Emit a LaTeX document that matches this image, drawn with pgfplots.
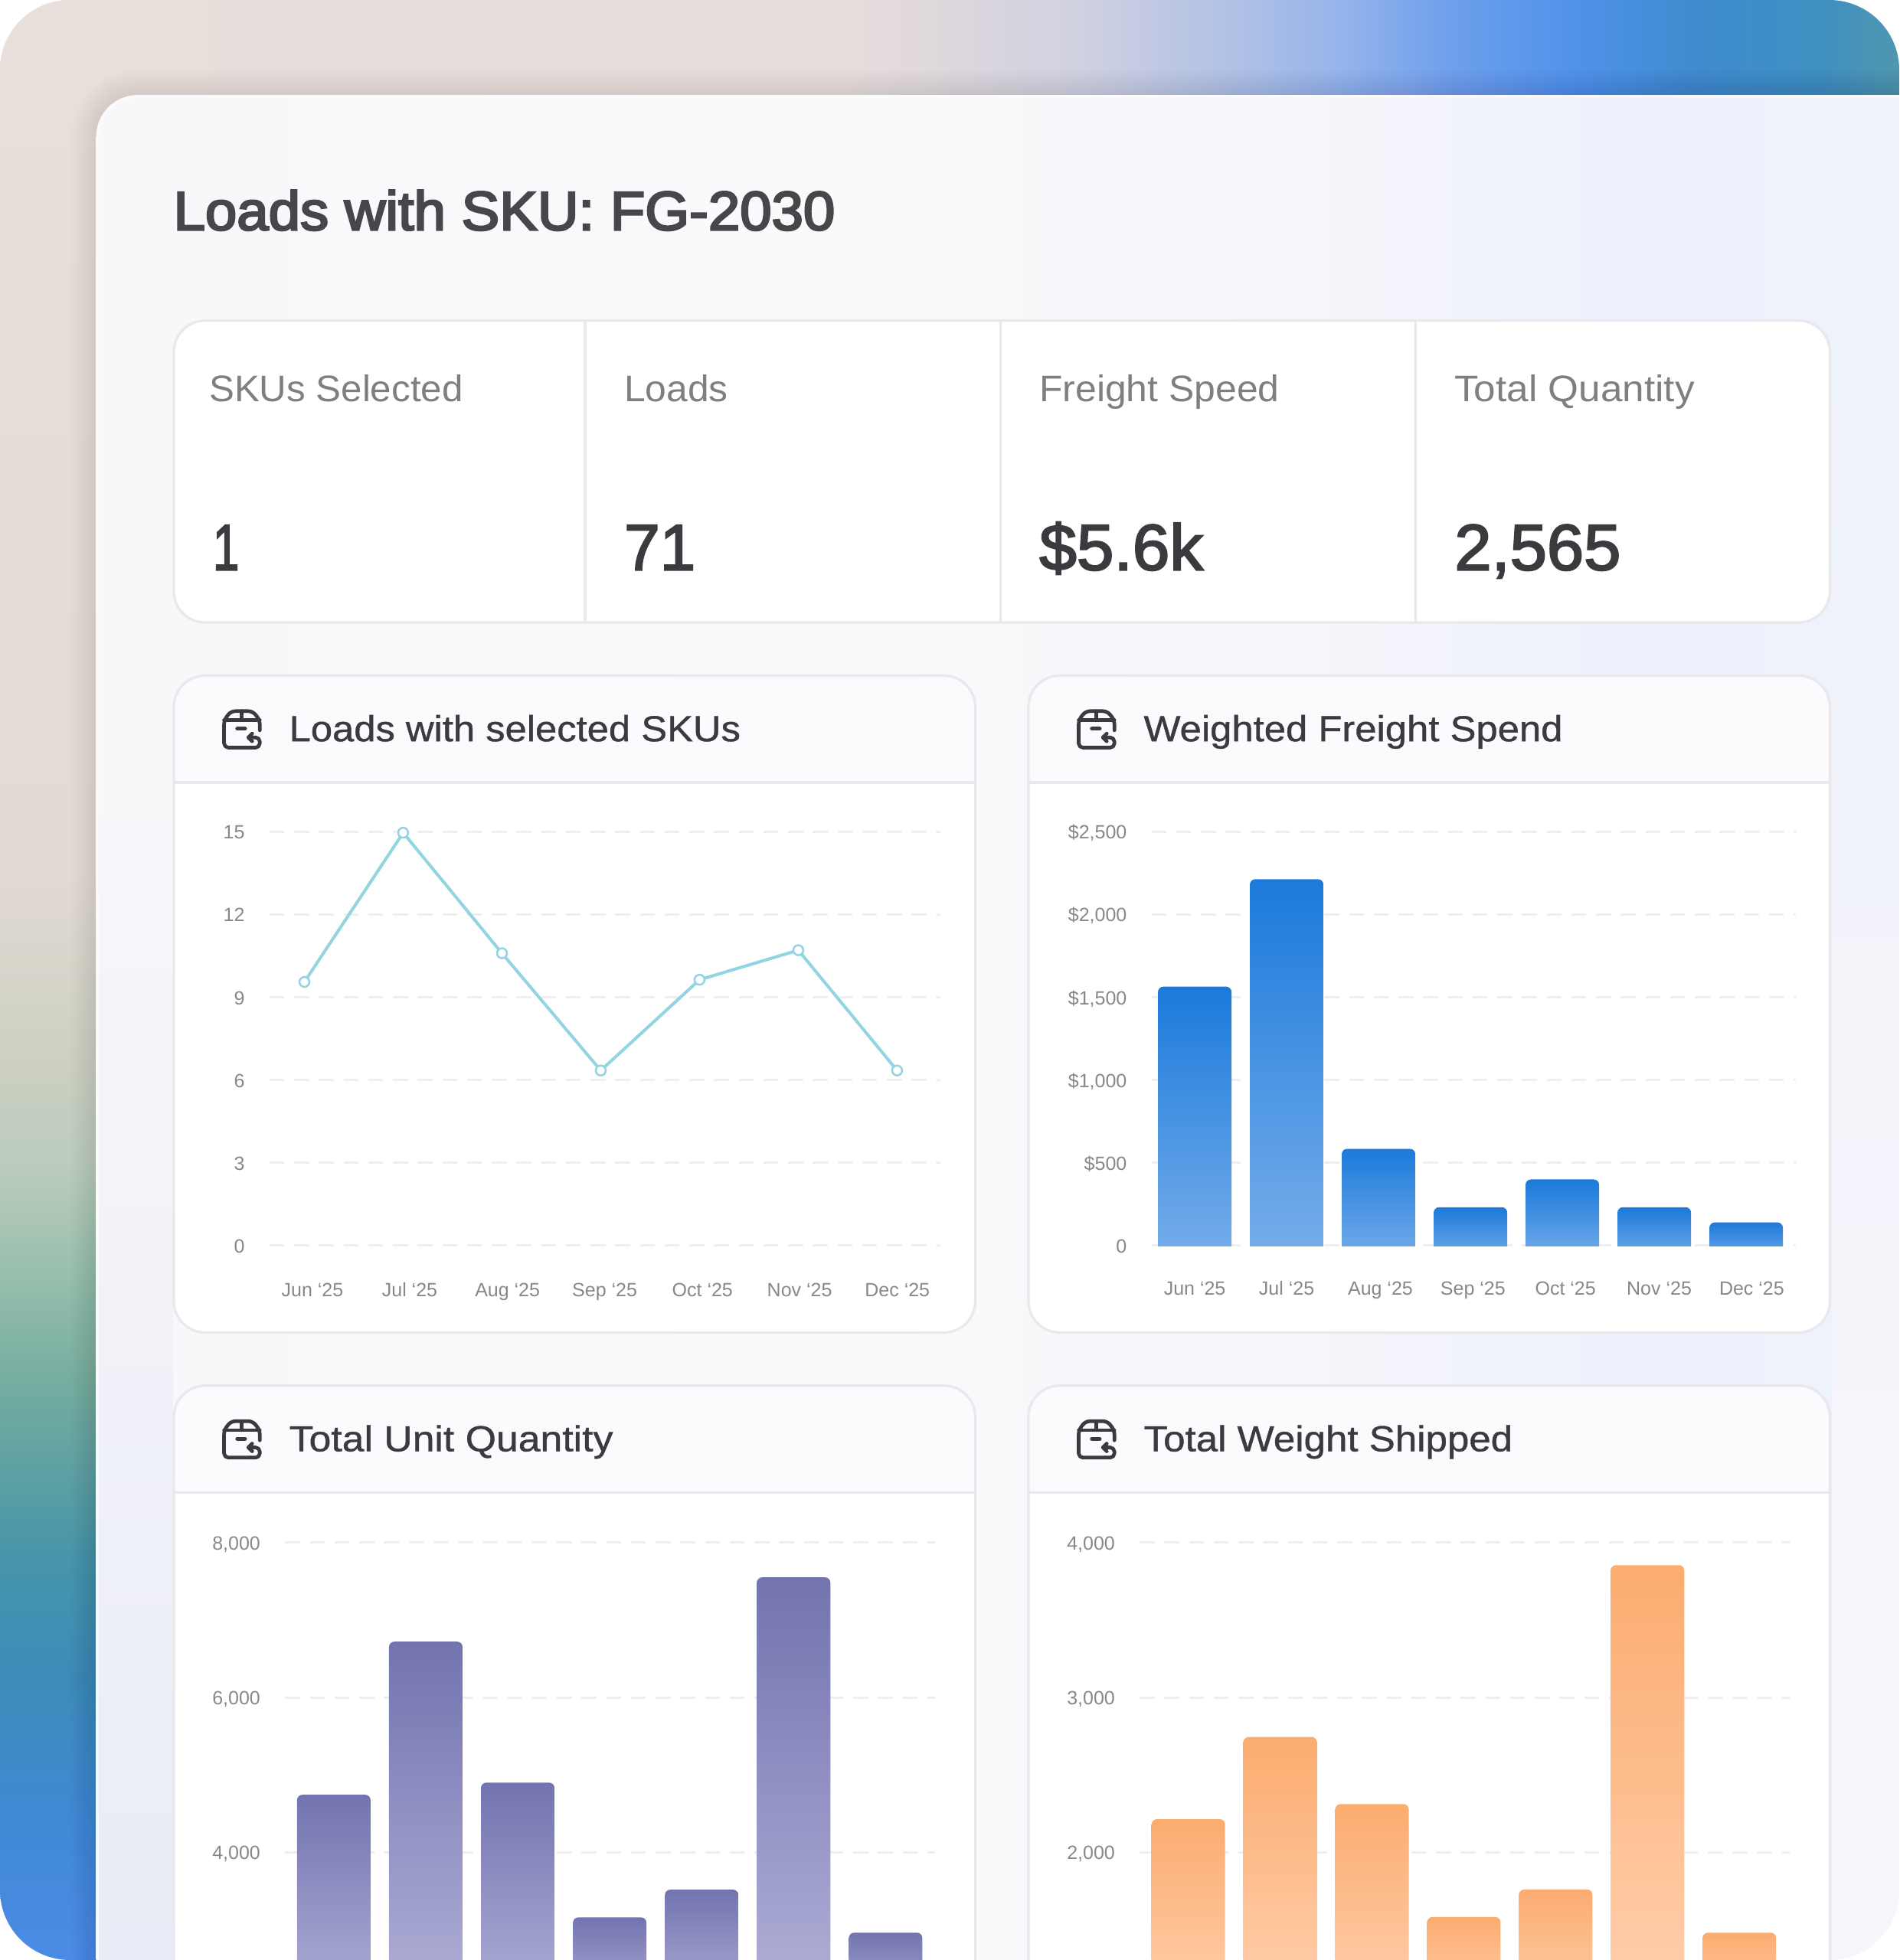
\documentclass[border=0pt]{standalone}
\usepackage{fontspec}
\usepackage{graphicx}
\usepackage{pgfplots}
\pgfplotsset{compat=1.18}
\setmainfont{Liberation Sans}
\newfontface\titlef{Liberation Sans}[FakeBold=3.5]
\newfontface\valf{Liberation Sans}[FakeBold=2.5]
\newfontface\headf{Liberation Sans}[FakeBold=0.8]
\newdimen\U \U=0.65306pt
\definecolor{ink}{HTML}{3B3B3F}
\definecolor{titleink}{HTML}{47464A}
\definecolor{kpilab}{HTML}{7F7F83}
\definecolor{tickc}{HTML}{88888C}
\definecolor{edge}{HTML}{E9E8EC}
\definecolor{gridc}{HTML}{EFEFF1}
\definecolor{head}{HTML}{FCFAFD}
\definecolor{linec}{HTML}{92D4E2}
\definecolor{bluet}{HTML}{1B7ADB}\definecolor{blueb}{HTML}{78AEEA}
\definecolor{purt}{HTML}{7373B0}\definecolor{purb}{HTML}{B1B1D8}
\definecolor{orat}{HTML}{FBAC6F}\definecolor{orab}{HTML}{FFD0AE}
\definecolor{c0}{HTML}{4C8BE6}\definecolor{c1}{HTML}{3F89D4}\definecolor{c2}{HTML}{3C8BB8}
\definecolor{c3}{HTML}{4695AB}\definecolor{c4}{HTML}{5A9FA4}\definecolor{c5}{HTML}{76AEA0}
\definecolor{c6}{HTML}{9ABFAD}\definecolor{c7}{HTML}{BCCCBD}\definecolor{c8}{HTML}{CDD0C3}
\definecolor{c9}{HTML}{E2DAD3}\definecolor{c10}{HTML}{E7DFDA}
\definecolor{t0}{HTML}{E8DFDA}\definecolor{t1}{HTML}{E6DDDC}\definecolor{t2}{HTML}{DCD6DD}
\definecolor{t3}{HTML}{CED0E1}\definecolor{t4}{HTML}{B5C3E4}\definecolor{t5}{HTML}{98B5EB}
\definecolor{t6}{HTML}{6D9FEC}\definecolor{t7}{HTML}{4F92E9}\definecolor{t8}{HTML}{3F8BCE}
\definecolor{t9}{HTML}{3F8FC2}\definecolor{t10}{HTML}{4F97B0}
\definecolor{p0}{HTML}{F8F7FA}\definecolor{p1}{HTML}{FCF9FB}\definecolor{p2}{HTML}{F6F5FB}
\definecolor{p3}{HTML}{EDF1FB}\definecolor{p4}{HTML}{EEF2FA}
\definecolor{lowleft}{HTML}{E9ECF6}\definecolor{lowright}{HTML}{F8F6FB}
% a shading named in TikZ maps its middle 25bp--75bp onto the path
\pgfdeclareverticalshading{leftstrip}{100bp}{
 color(0bp)=(c0); color(25bp)=(c0); color(28.55bp)=(c1); color(32.25bp)=(c2); color(35.2bp)=(c3);
 color(37.15bp)=(c4); color(39.9bp)=(c5); color(42.6bp)=(c6); color(45.35bp)=(c7);
 color(48.05bp)=(c8); color(52.7bp)=(c9); color(75bp)=(c10); color(100bp)=(c10)}
\pgfdeclarehorizontalshading{topstrip}{100bp}{
 color(0bp)=(t0); color(25bp)=(t0); color(47.3bp)=(t1); color(50.5bp)=(t2); color(53.7bp)=(t3);
 color(56.9bp)=(t4); color(60.1bp)=(t5); color(63.3bp)=(t6); color(66.5bp)=(t7);
 color(69.65bp)=(t8); color(72.85bp)=(t9); color(75bp)=(t10); color(100bp)=(t10)}
\pgfdeclarehorizontalshading{panelbg}{100bp}{
 color(0bp)=(p0); color(25bp)=(p0); color(44.9bp)=(p1); color(55.9bp)=(p2); color(64.6bp)=(p3); color(71.7bp)=(p4); color(100bp)=(p4)}
\newcommand\fit[2]{\resizebox{#1\U}{\height}{#2}}
\newcommand\boxicon[2]{%
 \begin{scope}[shift={(#1,#2)},x=0.204\U,y=-0.204\U,line width=2.9\U,draw=ink,line cap=round,line join=round]
  \draw[rounded corners=3.4\U] (146,82)--(146,42)--(118,7)--(33,7)--(6,42)--(6,150)--(110,150);
  \draw (6,42)--(146,42) (75,7)--(75,42);
  \draw[line width=3.2\U] (58,76)--(88,76);
  \draw[rounded corners=3.4\U] (102,110)--(146,110)--(146,150)--(110,150);
  \draw (116,95)--(101,110)--(116,125);
 \end{scope}}
\newcommand\card[5]{% x1 y1 x2 y2 ysep
 \begin{scope}
  \clip[rounded corners=25\U] (#1,#2) rectangle (#3,#4);
  \fill[white] (#1,#2) rectangle (#3,#4);
  \fill[head] (#1,#2) rectangle (#3,#5);
  \draw[edge,line width=2\U] (#1,#5)--(#3,#5);
 \end{scope}
 \draw[edge,line width=2\U,rounded corners=25\U] (#1,#2) rectangle (#3,#4);}
\pgfplotsset{dash/.style={
  scale only axis, anchor=south west, enlargelimits=false,
  axis line style={draw=none}, tick style={draw=none},
  ymajorgrids, major grid style={draw=gridc,line width=1.2pt,dash pattern=on 7.8pt off 5.1pt},
  tick label style={font=\fontsize{10}{10}\selectfont,text=tickc},
  xticklabel style={anchor=base,inner sep=0pt,yshift=-40.7\U},
  yticklabel style={anchor=base east,inner sep=0pt,xshift=-19.5\U,yshift=-5.7\U},
  clip mode=individual},
  bar/.style={bar shift=0pt,draw=none,rounded corners=2.8pt},
  blue/.style={bar,top color=bluet,bottom color=blueb},
  purple/.style={bar,top color=purt,bottom color=purb},
  orange/.style={bar,top color=orat,bottom color=orab}}
\begin{document}
\begin{tikzpicture}[x=0.65306pt,y=-0.65306pt]
\path[use as bounding box] (0,0) rectangle (1519,1568);
\begin{scope}
\clip[rounded corners=56\U] (0,0) rectangle (1519,1568);
\path[shading=leftstrip] (0,0) rectangle (120,1568);
\begin{scope}
\clip (0,0) rectangle (1519,120);
\path[shading=topstrip] (0,0) rectangle (1519,120);
\end{scope}
\foreach \w in {4,8,12,16,20,24,28,32,36,40}
  \draw[black,opacity=.009,line width=\w\U,rounded corners=33\U] (77,76) rectangle (1620,1660);
\path[shading=panelbg,rounded corners=33\U] (77,76) rectangle (1620,1660);
\path[top color=p0,bottom color=lowleft] (79,620) rectangle (138,1568);
\path[top color=p4,bottom color=lowright] (1465,256) rectangle (1519,1568);
\draw[white,opacity=.55,line width=2\U,rounded corners=33\U] (78,77) rectangle (1620,1660);

\node[anchor=base west,inner sep=0pt,text=titleink,font=\fontsize{28.7}{30}\titlef] at (138.5,184) {\fit{529}{Loads with SKU: FG-2030}};

% KPI strip
\fill[white,rounded corners=25\U] (139,256.5) rectangle (1463.5,498);
\draw[edge,line width=2\U,rounded corners=25\U] (139,256.5) rectangle (1463.5,498);
\foreach \x in {468,800,1132} \draw[edge,line width=2\U] (\x,256.5)--(\x,498);
\foreach \x/\l/\w in {167/SKUs Selected/203,499/Loads/83,831/Freight Speed/192,1163/Total Quantity/192}
  \node[anchor=base west,inner sep=0pt,text=kpilab,font=\fontsize{19.3}{20}\selectfont] at (\x,321) {\fit{\w}{\l}};
\foreach \x/\l/\w in {170/1/21,499/71/57,831/\$5.6k/131,1163/{2,565}/133}
  \node[anchor=base west,inner sep=0pt,text=ink,font=\fontsize{34}{36}\valf] at (\x,456) {\fit{\w}{\l}};

% chart cards
\card{139}{540.5}{780}{1066}{626}
\card{822.5}{540.5}{1463.5}{1066}{626}
\card{139}{1108.5}{780}{1660}{1194}
\card{822.5}{1108.5}{1463.5}{1660}{1194}
\boxicon{178}{567.5}\boxicon{861.5}{567.5}\boxicon{178}{1135.5}\boxicon{861.5}{1135.5}
\foreach \x/\y/\l/\w in {231/593/Loads with selected SKUs/361,914.5/593/Weighted Freight Spend/335,231/1161/Total Unit Quantity/259,914.5/1161/Total Weight Shipped/295}
  \node[anchor=base west,inner sep=0pt,text=ink,font=\fontsize{18.9}{20}\headf] at (\x,\y) {\fit{\w}{\l}};

% Loads with selected SKUs
\begin{axis}[dash,at={(215.5\U,-996.5\U)},width=536.5\U,height=331\U,
  xmin=-0.354,xmax=6.437,ymin=0,ymax=15,clip=false,
  xtick={0.081,1.066,2.056,3.04,4.03,5.013,6.003},
  xticklabels={Jun ‘25,Jul ‘25,Aug ‘25,Sep ‘25,Oct ‘25,Nov ‘25,Dec ‘25},
  ytick={0,3,6,9,12,15},yticklabels={0,3,6,9,12,15}]
\addplot[linec,line width=1.6pt,mark=*,mark size=2.6pt,mark options={fill=white,draw=linec,line width=1pt}]
  coordinates {(0,9.56)(1,14.97)(2,10.6)(3,6.35)(4,9.64)(5,10.71)(6,6.35)};
\end{axis}

% Weighted Freight Spend (the plain bar feet lie under the lowest grid line)
\begin{axis}[dash,at={(921\U,-1009.74\U)},width=515\U,height=344.24\U,
  xmin=-0.47,xmax=6.537,ymin=0,ymax=2600,
  xtick={0,1,2.02,3.027,4.034,5.054,6.061},
  xticklabels={Jun ‘25,Jul ‘25,Aug ‘25,Sep ‘25,Oct ‘25,Nov ‘25,Dec ‘25},
  xticklabel style={yshift=21.24\U},
  ytick={100,600,1100,1600,2100,2600},yticklabels={0,\$500,\$1{,}000,\$1{,}500,\$2{,}000,\$2{,}500},
  y filter/.expression={y+100},ybar,bar width=38.4pt]
\addplot[blue] coordinates {(0,1565)};
\addplot[blue] coordinates {(1,2214)};
\addplot[blue] coordinates {(2,585)};
\addplot[blue] coordinates {(3,232)};
\addplot[blue] coordinates {(4,400)};
\addplot[blue] coordinates {(5,232)};
\addplot[blue] coordinates {(6,140)};
\fill[white] (axis cs:-0.47,0) rectangle (axis cs:6.537,97);
\end{axis}

% Total Unit Quantity
\begin{axis}[dash,at={(228\U,-1606\U)},width=520\U,height=372\U,
  xmin=-0.53,xmax=6.54,ymin=0,ymax=6000,
  xtick=\empty,
  ytick={2000,4000,6000},yticklabels={4{,}000,6{,}000,8{,}000},
  y filter/.expression={y-2000},ybar,bar width=38.4pt]
\addplot[purple] coordinates {(0,4745)};
\addplot[purple] coordinates {(1,6721)};
\addplot[purple] coordinates {(2,4902)};
\addplot[purple] coordinates {(3,3163)};
\addplot[purple] coordinates {(4,3521)};
\addplot[purple] coordinates {(5,7551)};
\addplot[purple] coordinates {(6,2966)};
\end{axis}

% Total Weight Shipped
\begin{axis}[dash,at={(911.5\U,-1606\U)},width=520\U,height=372\U,
  xmin=-0.53,xmax=6.55,ymin=0,ymax=3000,
  xtick=\empty,
  ytick={1000,2000,3000},yticklabels={2{,}000,3{,}000,4{,}000},
  y filter/.expression={y-1000},ybar,bar width=38.4pt]
\addplot[orange] coordinates {(0,2215)};
\addplot[orange] coordinates {(1,2746)};
\addplot[orange] coordinates {(2,2313)};
\addplot[orange] coordinates {(3,1584)};
\addplot[orange] coordinates {(4,1761)};
\addplot[orange] coordinates {(5,3854)};
\addplot[orange] coordinates {(6,1483)};
\end{axis}
\end{scope}
\end{tikzpicture}
\end{document}
